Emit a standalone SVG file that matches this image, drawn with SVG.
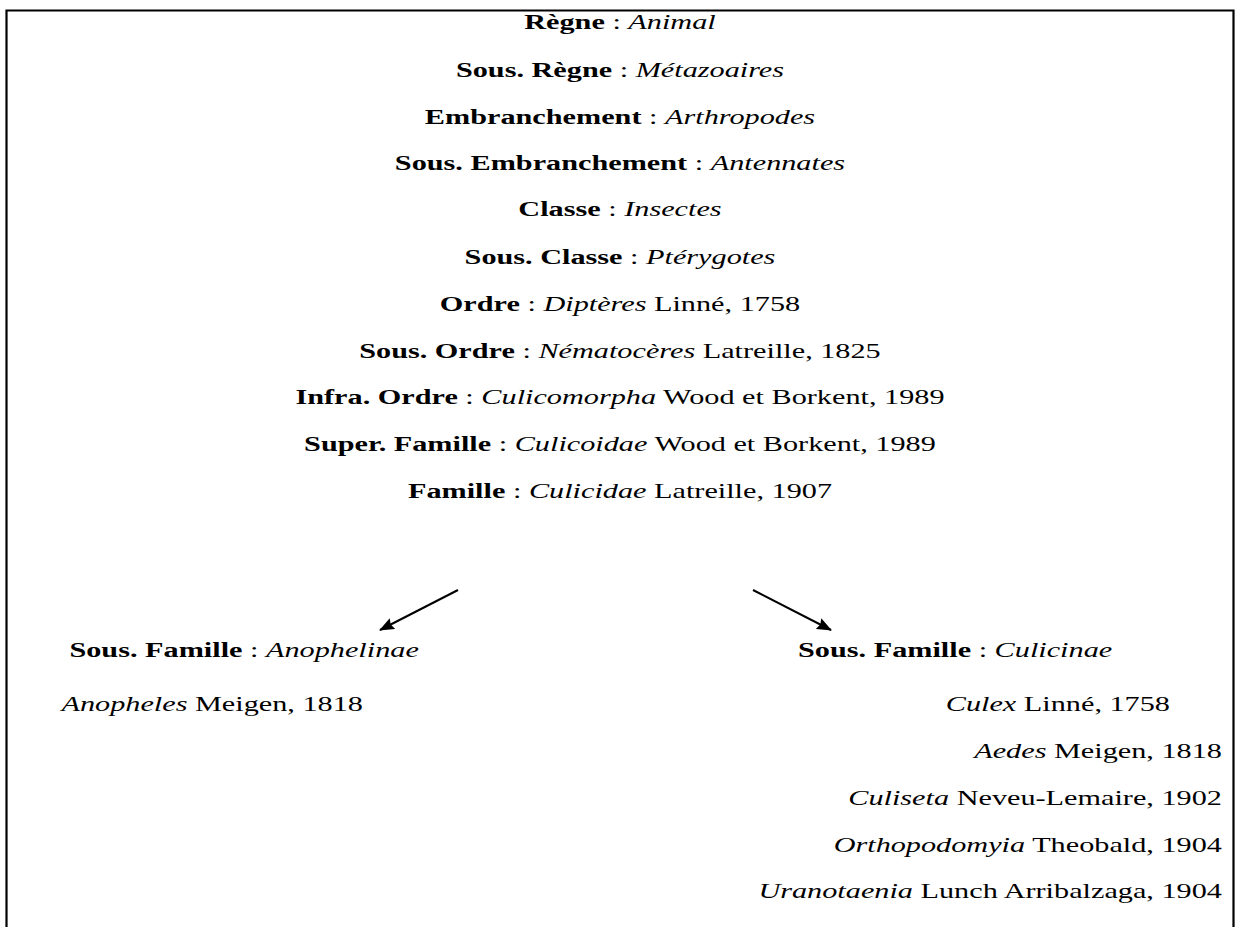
<svg xmlns="http://www.w3.org/2000/svg" width="1239" height="927" viewBox="0 0 1239 927">
<style>
text{font-family:"Liberation Serif","Times New Roman",serif;font-size:22px;fill:#000}
.c{text-anchor:middle}
.e{text-anchor:end}
.b{font-weight:bold}
.i{font-style:italic}
</style>
<defs>
<marker id="ah" viewBox="0 0 15 12" refX="14" refY="6" markerWidth="15" markerHeight="12" markerUnits="userSpaceOnUse" orient="auto">
<path d="M0,0 L15,6 L0,12 L2,6 Z" fill="#000"/>
</marker>
</defs>
<rect width="1239" height="927" fill="#fff"/>
<path d="M6.5,927 V10.5 H1233.5 V927" fill="none" stroke="#000" stroke-width="2.2"/>
<g transform="scale(1.375 1)">
<g id="regne"><text class="c" x="450.9" y="29"><tspan class="b">Règne</tspan> : <tspan class="i">Animal</tspan></text></g>
<g id="sous-regne"><text class="c" x="450.9" y="77"><tspan class="b">Sous. Règne</tspan> : <tspan class="i">Métazoaires</tspan></text></g>
<g id="embranchement"><text class="c" x="450.9" y="124"><tspan class="b">Embranchement</tspan> : <tspan class="i">Arthropodes</tspan></text></g>
<g id="sous-embranchement"><text class="c" x="450.9" y="170"><tspan class="b">Sous. Embranchement</tspan> : <tspan class="i">Antennates</tspan></text></g>
<g id="classe"><text class="c" x="450.9" y="216"><tspan class="b">Classe</tspan> : <tspan class="i">Insectes</tspan></text></g>
<g id="sous-classe"><text class="c" x="450.9" y="264"><tspan class="b">Sous. Classe</tspan> : <tspan class="i">Ptérygotes</tspan></text></g>
<g id="ordre"><text class="c" x="450.9" y="311"><tspan class="b">Ordre</tspan> : <tspan class="i">Diptères</tspan> Linné, 1758</text></g>
<g id="sous-ordre"><text class="c" x="450.9" y="358"><tspan class="b">Sous. Ordre</tspan> : <tspan class="i">Nématocères</tspan> Latreille, 1825</text></g>
<g id="infra-ordre"><text class="c" x="450.9" y="404"><tspan class="b">Infra. Ordre</tspan> : <tspan class="i">Culicomorpha</tspan> Wood et Borkent, 1989</text></g>
<g id="super-famille"><text class="c" x="450.9" y="451"><tspan class="b">Super. Famille</tspan> : <tspan class="i">Culicoidae</tspan> Wood et Borkent, 1989</text></g>
<g id="famille"><text class="c" x="450.9" y="498"><tspan class="b">Famille</tspan> : <tspan class="i">Culicidae</tspan> Latreille, 1907</text></g>
<g id="anophelinae"><text x="50.5" y="657"><tspan class="b">Sous. Famille</tspan> : <tspan class="i">Anophelinae</tspan></text></g>
<g id="anopheles"><text x="44.7" y="711"><tspan class="i">Anopheles</tspan> Meigen, 1818</text></g>
<g id="culicinae"><text x="580.4" y="657"><tspan class="b">Sous. Famille</tspan> : <tspan class="i">Culicinae</tspan></text></g>
<g id="culex"><text class="e" x="850.9" y="711"><tspan class="i">Culex</tspan> Linné, 1758</text></g>
<g id="aedes"><text class="e" x="888.7" y="758"><tspan class="i">Aedes</tspan> Meigen, 1818</text></g>
<g id="culiseta"><text class="e" x="888.7" y="805"><tspan class="i">Culiseta</tspan> Neveu-Lemaire, 1902</text></g>
<g id="orthopodomyia"><text class="e" x="888.7" y="852"><tspan class="i">Orthopodomyia</tspan> Theobald, 1904</text></g>
<g id="uranotaenia"><text class="e" x="888.7" y="898"><tspan class="i">Uranotaenia</tspan> Lunch Arribalzaga, 1904</text></g>
</g>
<g id="connectors" stroke="#000" stroke-width="2" fill="none">
<line x1="458" y1="590" x2="380" y2="630" marker-end="url(#ah)"/>
<line x1="753" y1="590" x2="831" y2="630" marker-end="url(#ah)"/>
</g>
</svg>
